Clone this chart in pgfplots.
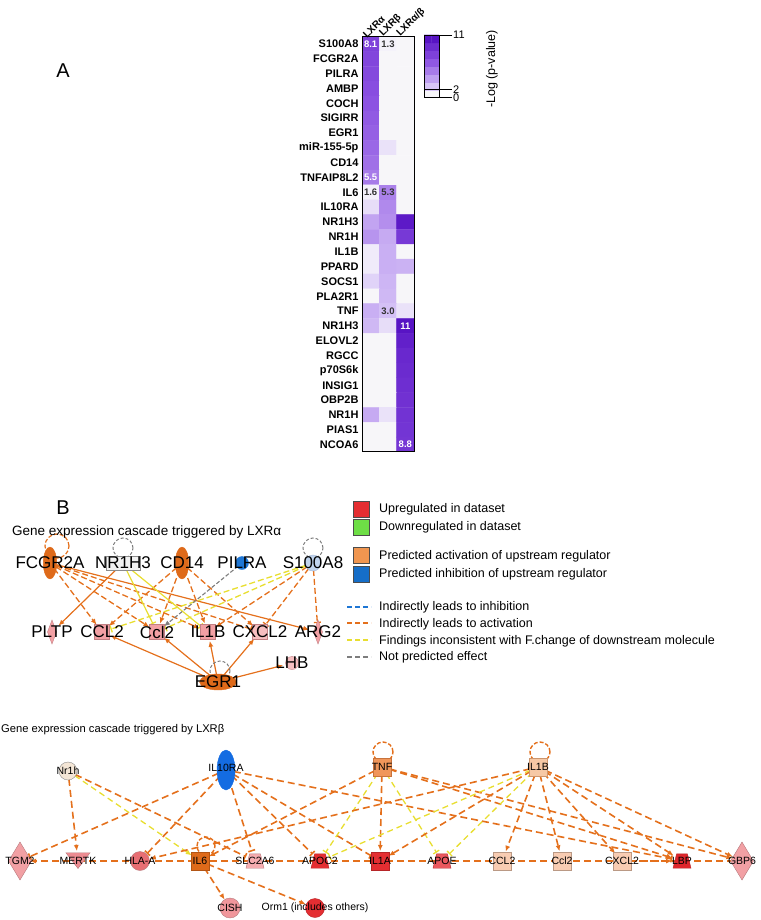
\documentclass[border=0pt]{standalone}
\usepackage{fontspec}
\setmainfont{Liberation Sans}
\usepackage{pgfplots}
\usepackage{pgfplotstable}
\pgfplotsset{compat=1.18}
\usetikzlibrary{arrows.meta}

\definecolor{org}{RGB}{228,112,28}
\definecolor{orgdark}{RGB}{222,106,26}
\definecolor{ylw}{RGB}{232,222,48}
\definecolor{gry}{RGB}{125,125,125}
\definecolor{blu}{RGB}{30,118,212}
\definecolor{pnk}{RGB}{242,160,164}
\definecolor{pnkl}{RGB}{246,190,192}
\definecolor{redn}{RGB}{228,46,50}
\definecolor{peach}{RGB}{248,204,178}

\pgfplotsset{colormap={lxr}{rgb255(0cm)=(247,246,249) rgb255(2cm)=(243,240,250) rgb255(3cm)=(212,192,246) rgb255(7cm)=(140,82,226) rgb255(11cm)=(88,20,196)}}

% same pixel frame for the network canvas and its label overlay
\pgfplotsset{canvas/.style={at={(0,0)}, anchor=south west, width=760pt, height=920pt,
  scale only axis, xmin=0, xmax=760, ymin=0, ymax=920, y dir=reverse,
  hide axis, clip=false}}

% trapezoid node shape
\pgfdeclareplotmark{trap*}{%
  \pgfpathmoveto{\pgfpoint{-\pgfplotmarksize}{-0.8\pgfplotmarksize}}%
  \pgfpathlineto{\pgfpoint{\pgfplotmarksize}{-0.8\pgfplotmarksize}}%
  \pgfpathlineto{\pgfpoint{0.6\pgfplotmarksize}{0.8\pgfplotmarksize}}%
  \pgfpathlineto{\pgfpoint{-0.6\pgfplotmarksize}{0.8\pgfplotmarksize}}%
  \pgfpathclose\pgfusepathqfillstroke}

\tikzset{
  arr/.style={-{Latex[length=6pt,width=5pt]}},
  bar/.style={-{Bar[width=7pt]}},
  sol/.style={color=org, line width=1.2pt, shorten >=9pt, shorten <=7pt},
  dsh/.style={color=org, line width=1.3pt, dash pattern=on 6pt off 3pt, shorten >=9pt, shorten <=7pt},
  ydsh/.style={color=ylw, line width=1.3pt, dash pattern=on 6pt off 3pt, shorten >=9pt, shorten <=7pt},
  ysol/.style={color=ylw, line width=1.2pt, shorten >=9pt, shorten <=7pt},
  gdsh/.style={color=gry, line width=1.1pt, dash pattern=on 4pt off 2pt, shorten >=9pt, shorten <=5pt},
  bd/.style={color=org, line width=1.6pt, dash pattern=on 7pt off 4pt, shorten >=10pt, shorten <=8pt},
  byd/.style={color=ylw, line width=1.3pt, dash pattern=on 6pt off 4pt, shorten >=10pt, shorten <=8pt},
}

\newcommand\edge[5]{\addplot[#1] coordinates {(#2,#3) (#4,#5)};}
\newcommand\gnode[4]{\addplot[only marks, mark=#1, #2] coordinates {(#3,#4)};}

% -log(p) values: LXRa = 0, LXRb = 1, LXRa/b = 2
\pgfplotstableread{
x y v
0 0 8.1
1 0 1.3
2 0 0
0 1 7.8
1 1 0
2 1 0
0 2 7.6
1 2 0
2 2 0
0 3 7.3
1 3 0
2 3 0
0 4 7.0
1 4 0
2 4 0
0 5 6.7
1 5 0
2 5 0
0 6 6.5
1 6 0
2 6 0
0 7 6.2
1 7 2.3
2 7 0
0 8 5.9
1 8 0
2 8 0
0 9 5.5
1 9 0
2 9 0
0 10 1.6
1 10 5.3
2 10 0
0 11 2.4
1 11 5.0
2 11 0
0 12 4.0
1 12 4.8
2 12 10.6
0 13 4.6
1 13 3.8
2 13 8.6
0 14 2.1
1 14 3.6
2 14 0
0 15 2.1
1 15 3.6
2 15 3.5
0 16 2.6
1 16 3.4
2 16 0
0 17 0
1 17 3.3
2 17 0
0 18 3.6
1 18 3.0
2 18 2.3
0 19 3.3
1 19 2.4
2 19 11
0 20 0
1 20 0
2 20 10.2
0 21 0
1 21 0
2 21 9.7
0 22 0
1 22 0
2 22 9.5
0 23 0
1 23 0
2 23 9.3
0 24 0
1 24 0
2 24 9.1
0 25 3.8
1 25 2.3
2 25 9.0
0 26 0
1 26 0
2 26 8.9
0 27 0
1 27 0
2 27 8.8
}\heat

\pgfplotstableread{
x y v
0.25 0.5 0
0.75 0.5 0
0.25 1.5 2.9
0.75 1.5 2.9
0.25 2.5 4.2
0.75 2.5 4.2
0.25 3.5 5.5
0.75 3.5 5.5
0.25 4.5 6.8
0.75 4.5 6.8
0.25 5.5 8.1
0.75 5.5 8.1
0.25 6.5 9.4
0.75 6.5 9.4
0.25 7.5 11
0.75 7.5 11
}\cbar

\begin{document}
\begin{tikzpicture}
\useasboundingbox (0,0) rectangle (760pt,920pt);

% ---- canvas in pixel units: legend, edges and node shapes
\begin{axis}[canvas]

% legend
\gnode{square*}{mark size=8pt, mark options={fill=redn, draw=black!70}}{361}{509}
\gnode{square*}{mark size=8pt, mark options={fill={rgb,255:red,110;green,222;blue,70}, draw=black!70}}{361}{527}
\gnode{square*}{mark size=8pt, mark options={fill={rgb,255:red,240;green,150;blue,80}, draw=black!70}}{361}{555.5}
\gnode{square*}{mark size=8pt, mark options={fill={rgb,255:red,22;green,110;blue,200}, draw=black!70}}{361}{574}
\edge{color=blu, line width=1.8pt, dash pattern=on 5pt off 3pt}{347}{607}{371}{607}
\edge{color=org, line width=1.8pt, dash pattern=on 5pt off 3pt}{347}{623}{371}{623}
\edge{color=ylw, line width=1.8pt, dash pattern=on 5pt off 3pt}{347}{640}{371}{640}
\edge{color=gry, line width=1.8pt, dash pattern=on 5pt off 3pt}{347}{657}{371}{657}

% network triggered by LXRa
\edge{sol,arr}{123}{563}{52}{632}
\edge{sol,arr}{50}{563}{318}{632}
\edge{sol,arr}{218}{682}{102}{632}
\edge{sol,arr}{218}{682}{157}{632}
\edge{sol,arr}{218}{682}{208}{632}
\edge{sol,arr}{218}{682}{260}{632}
\edge{sol,arr}{218}{682}{292}{663}
\edge{dsh,arr}{50}{563}{102}{632}
\edge{dsh,arr}{50}{563}{157}{632}
\edge{dsh,arr}{50}{563}{208}{632}
\edge{dsh,bar}{50}{563}{260}{632}
\edge{dsh,arr}{182}{563}{102}{632}
\edge{dsh,arr}{182}{563}{157}{632}
\edge{dsh,arr}{182}{563}{208}{632}
\edge{dsh,arr}{182}{563}{260}{632}
\edge{dsh,bar}{313}{563}{318}{632}
\edge{dsh,bar}{313}{563}{260}{632}
\edge{dsh,arr}{313}{563}{208}{632}
\edge{ydsh,bar}{313}{563}{102}{632}
\edge{ydsh,bar}{313}{563}{157}{632}
\edge{ysol,bar}{123}{563}{157}{632}
\edge{ysol,bar}{123}{563}{208}{632}
\edge{gdsh,arr}{242}{563}{157}{632}

\gnode{o}{mark size=12pt, mark options={draw=org, line width=1.2pt, dash pattern=on 4pt off 2pt}}{57}{546}
\gnode{o}{mark size=10pt, mark options={draw=gry, line width=1pt, dash pattern=on 3pt off 2pt}}{123}{548}
\gnode{o}{mark size=10pt, mark options={draw=gry, line width=1pt, dash pattern=on 3pt off 2pt}}{313}{548}
\gnode{o}{mark size=10pt, mark options={draw=gry, line width=1pt, dash pattern=on 3pt off 2pt}}{220}{671}

\gnode{*}{mark size=16pt, mark options={xscale=0.42, fill=orgdark, draw=orgdark}}{50}{563}
\gnode{square*}{mark size=7pt, mark options={xscale=2.4, fill=black!5, draw=black!45}}{123}{563}
\gnode{*}{mark size=16pt, mark options={xscale=0.42, fill=orgdark, draw=orgdark}}{182}{563}
\gnode{*}{mark size=6.5pt, mark options={fill=blu, draw=blu}}{242}{563}
\gnode{*}{mark size=8pt, mark options={fill={rgb,255:red,192;green,212;blue,238}, draw={rgb,255:red,165;green,185;blue,215}}}{313}{563}
\gnode{diamond*}{mark size=12pt, mark options={xscale=0.5, fill=pnk, draw=pnk!80!black}}{52}{632}
\gnode{square*}{mark size=7.5pt, mark options={fill=pnk, draw=pnk!80!black}}{102}{632}
\gnode{square*}{mark size=7.5pt, mark options={fill=pnk, draw=pnk!80!black}}{157}{632}
\gnode{square*}{mark size=7.5pt, mark options={fill=pnk, draw=pnk!80!black}}{208}{632}
\gnode{square*}{mark size=7.5pt, mark options={fill=pnkl, draw=pnk!80!black}}{260}{632}
\gnode{diamond*}{mark size=12pt, mark options={xscale=0.5, fill=pnk, draw=pnk!80!black}}{318}{632}
\gnode{*}{mark size=6.5pt, mark options={fill=pnkl, draw=pnk!80!black}}{292}{663}
\gnode{*}{mark size=8pt, mark options={xscale=2.3, fill=orgdark, draw=orgdark}}{218}{682}

% network triggered by LXRb
\edge{bd,arr}{68}{771}{78}{861}
\edge{byd,arr}{68}{771}{200}{861}
\edge{bd,bar}{68}{771}{255}{861}
\edge{bd,bar}{226}{770}{20}{861}
\edge{bd,bar}{226}{770}{140}{861}
\edge{bd,bar}{226}{770}{255}{861}
\edge{bd,bar}{226}{770}{320}{861}
\edge{bd,bar}{226}{770}{380}{861}
\edge{bd,bar}{226}{770}{682}{861}
\edge{bd,arr}{382}{767}{200}{861}
\edge{bd,arr}{382}{767}{380}{861}
\edge{byd,bar}{382}{767}{320}{861}
\edge{byd,bar}{382}{767}{442}{861}
\edge{bd,arr}{382}{767}{682}{861}
\edge{bd,arr}{382}{767}{742}{861}
\edge{bd,arr}{538}{767}{140}{861}
\edge{bd,arr}{538}{767}{380}{861}
\edge{bd,arr}{538}{767}{502}{861}
\edge{bd,arr}{538}{767}{562}{861}
\edge{bd,arr}{538}{767}{622}{861}
\edge{bd,arr}{538}{767}{682}{861}
\edge{bd,arr}{538}{767}{742}{861}
\edge{byd,bar}{538}{767}{320}{861}
\edge{byd,bar}{538}{767}{442}{861}
\edge{bd, shorten >=0pt, shorten <=0pt}{78}{861}{742}{861}
\edge{bd,arr}{78}{861}{20}{861}
\edge{bd,arr}{622}{861}{682}{861}
\edge{bd,arr}{200}{861}{230}{908}
\edge{bd,arr}{200}{861}{315}{908}

\gnode{o}{mark size=10pt, mark options={draw=org, line width=1.4pt, dash pattern=on 4pt off 2pt}}{383}{752}
\gnode{o}{mark size=10pt, mark options={draw=org, line width=1.4pt, dash pattern=on 4pt off 2pt}}{540}{752}
\gnode{o}{mark size=9pt, mark options={draw=org, line width=1.4pt, dash pattern=on 4pt off 2pt}}{206}{846}

\gnode{*}{mark size=9pt, mark options={fill={rgb,255:red,244;green,230;blue,214}, draw=black!45}}{68}{771}
\gnode{*}{mark size=20pt, mark options={xscale=0.45, fill={rgb,255:red,20;green,108;blue,226}, draw={rgb,255:red,20;green,108;blue,226}}}{226}{770}
\gnode{square*}{mark size=9pt, mark options={fill={rgb,255:red,240;green,150;blue,90}, draw={rgb,255:red,200;green,115;blue,60}}}{382}{767}
\gnode{square*}{mark size=9pt, mark options={fill={rgb,255:red,246;green,200;blue,165}, draw={rgb,255:red,205;green,150;blue,110}}}{538}{767}

\gnode{diamond*}{mark size=19pt, mark options={xscale=0.8, fill=pnk, draw=pnk!75!black}}{20}{861}
\gnode{triangle*}{mark size=14pt, mark options={rotate=180, yscale=0.75, fill={rgb,255:red,236;green,140;blue,146}, draw=pnk!75!black}}{78}{858}
\gnode{*}{mark size=9.5pt, mark options={fill={rgb,255:red,232;green,110;blue,115}, draw=pnk!75!black}}{140}{861}
\gnode{square*}{mark size=9pt, mark options={fill=orgdark, draw=orgdark!80!black}}{200}{861}
\gnode{trap*}{mark size=9pt, mark options={fill={rgb,255:red,245;green,172;blue,176}, draw=pnk!75!black}}{255}{861}
\gnode{trap*}{mark size=9pt, mark options={fill=redn, draw=redn!80!black}}{320}{861}
\gnode{square*}{mark size=9pt, mark options={fill=redn, draw=redn!80!black}}{380}{861}
\gnode{trap*}{mark size=9pt, mark options={fill={rgb,255:red,234;green,88;blue,94}, draw=redn!80!black}}{442}{861}
\gnode{square*}{mark size=9pt, mark options={fill=peach, draw=peach!75!black}}{502}{861}
\gnode{square*}{mark size=9pt, mark options={fill=peach, draw=peach!75!black}}{562}{861}
\gnode{square*}{mark size=9pt, mark options={fill=peach, draw=peach!75!black}}{622}{861}
\gnode{trap*}{mark size=9pt, mark options={fill={rgb,255:red,222;green,38;blue,44}, draw=redn!80!black}}{682}{861}
\gnode{diamond*}{mark size=19pt, mark options={xscale=0.8, fill=pnk, draw=pnk!75!black}}{742}{861}
\gnode{*}{mark size=10pt, mark options={fill={rgb,255:red,240;green,150;blue,155}, draw=pnk!75!black}}{230}{908}
\gnode{*}{mark size=9.5pt, mark options={fill=redn, draw=redn!80!black}}{315}{908}
\end{axis}

% ---- same frame again, for all texts on top of the shapes
\begin{axis}[canvas]
\node[font=\fontsize{20}{20}\selectfont] at (axis cs:63,71) {A};
\node[font=\fontsize{20}{20}\selectfont] at (axis cs:63,508) {B};
\node[rotate=90, font=\fontsize{12.5}{12.5}\selectfont, inner sep=0pt] at (axis cs:492,69) {-Log (p-value)};

\begin{scope}[every node/.style={anchor=west, font=\fontsize{12.5}{12.5}\selectfont, inner sep=0pt}]
\node at (axis cs:379,509) {Upregulated in dataset};
\node at (axis cs:379,527) {Downregulated in dataset};
\node at (axis cs:379,556) {Predicted activation of upstream regulator};
\node at (axis cs:379,574) {Predicted inhibition of upstream regulator};
\node at (axis cs:379,607) {Indirectly leads to inhibition};
\node at (axis cs:379,624) {Indirectly leads to activation};
\node at (axis cs:379,641) {Findings inconsistent with F.change of downstream molecule};
\node at (axis cs:379,657) {Not predicted effect};
\end{scope}

\node[anchor=west, font=\fontsize{13.5}{13.5}\selectfont, inner sep=0pt] at (axis cs:12,532) {Gene expression cascade triggered by LXRα};
\node[anchor=west, font=\fontsize{11.2}{11.2}\selectfont, inner sep=0pt] at (axis cs:1,730) {Gene expression cascade triggered by LXRβ};

\begin{scope}[every node/.style={font=\fontsize{17}{17}\selectfont, inner sep=0pt}]
\node at (axis cs:50,563) {FCGR2A};
\node at (axis cs:123,563) {NR1H3};
\node at (axis cs:182,563) {CD14};
\node at (axis cs:242,563) {PILRA};
\node at (axis cs:313,563) {S100A8};
\node at (axis cs:52,632) {PLTP};
\node at (axis cs:102,632) {CCL2};
\node at (axis cs:157,632) {Ccl2};
\node at (axis cs:208,632) {IL1B};
\node at (axis cs:260,632) {CXCL2};
\node at (axis cs:318,632) {ARG2};
\node at (axis cs:292,663) {LHB};
\node at (axis cs:218,682) {EGR1};
\end{scope}

\begin{scope}[every node/.style={font=\fontsize{10.5}{10.5}\selectfont, inner sep=0pt}]
\node at (axis cs:68,771) {Nr1h};
\node at (axis cs:226,768) {IL10RA};
\node at (axis cs:382,767) {TNF};
\node at (axis cs:538,767) {IL1B};
\node at (axis cs:20,861) {TGM2};
\node at (axis cs:78,861) {MERTK};
\node at (axis cs:140,861) {HLA-A};
\node at (axis cs:200,861) {IL6};
\node at (axis cs:255,861) {SLC2A6};
\node at (axis cs:320,861) {APOC2};
\node at (axis cs:380,861) {IL1A};
\node at (axis cs:442,861) {APOE};
\node at (axis cs:502,861) {CCL2};
\node at (axis cs:562,861) {Ccl2};
\node at (axis cs:622,861) {CXCL2};
\node at (axis cs:682,861) {LBP};
\node at (axis cs:742,861) {GBP6};
\node at (axis cs:230,908) {CISH};
\node at (axis cs:315,908) {Orm1 (includes others)};
\end{scope}
\end{axis}

% ---- heatmap (panel A)
\begin{axis}[at={(362pt,883.4pt)}, anchor=north west,
  width=52pt, height=415.4pt, scale only axis,
  xmin=-0.5, xmax=2.5, ymin=-0.5, ymax=27.5, y dir=reverse,
  xtick={0,1,2}, xticklabels={LXRα,LXRβ,LXRα/β}, xticklabel pos=upper,
  xticklabel style={rotate=45, anchor=south west, inner sep=1pt, xshift=-5pt,
    font=\bfseries\fontsize{10}{10}\selectfont},
  ytick={0,...,27},
  yticklabels={S100A8,FCGR2A,PILRA,AMBP,COCH,SIGIRR,EGR1,miR-155-5p,CD14,TNFAIP8L2,IL6,IL10RA,NR1H3,NR1H,IL1B,PPARD,SOCS1,PLA2R1,TNF,NR1H3,ELOVL2,RGCC,p70S6k,INSIG1,OBP2B,NR1H,PIAS1,NCOA6},
  yticklabel style={font=\bfseries\fontsize{11}{11}\selectfont},
  major tick length=0pt, axis on top, axis line style={line width=1pt},
  colormap name=lxr, point meta min=0, point meta max=11]
\addplot[matrix plot*, mesh/cols=3, point meta=explicit] table[meta=v] {\heat};
\begin{scope}[every node/.style={font=\bfseries\fontsize{9.5}{9.5}\selectfont, inner sep=0pt}]
\node[white] at (axis cs:0,0) {8.1};
\node[black!80] at (axis cs:1,0) {1.3};
\node[white] at (axis cs:0,9) {5.5};
\node[black!80] at (axis cs:0,10) {1.6};
\node[black!80] at (axis cs:1,10) {5.3};
\node[black!80] at (axis cs:1,18) {3.0};
\node[white] at (axis cs:2,19) {11};
\node[white] at (axis cs:2,27) {8.8};
\end{scope}
\end{axis}

% ---- colour key
\begin{axis}[at={(424pt,885pt)}, anchor=north west,
  width=15pt, height=62.7pt, scale only axis,
  xmin=0, xmax=1, ymin=0, ymax=8,
  xtick=\empty, ytick={0,1,8}, yticklabels={0,2,11}, ytick pos=right,
  tick align=outside, major tick length=13pt, tick style={black, line width=0.9pt},
  yticklabel style={font=\fontsize{11}{11}\selectfont, inner sep=1pt},
  axis on top, axis line style={line width=0.9pt},
  colormap name=lxr, point meta min=0, point meta max=11]
\addplot[matrix plot*, mesh/cols=2, point meta=explicit] table[meta=v] {\cbar};
\addplot[black, line width=0.9pt] coordinates {(0,1) (1,1)};
\end{axis}
\end{tikzpicture}
\end{document}
